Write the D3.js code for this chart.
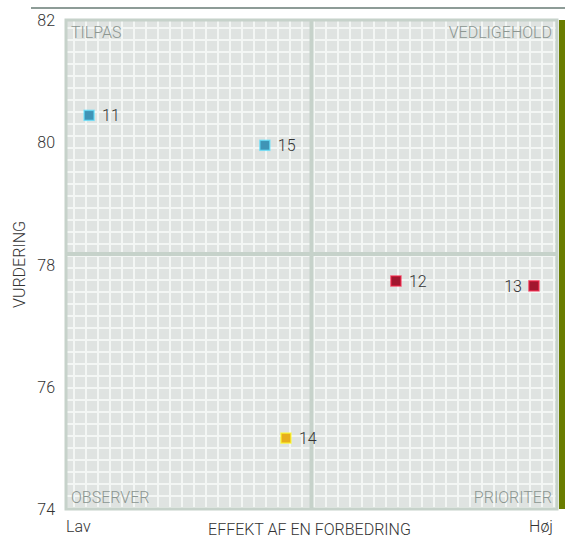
<!DOCTYPE html>
<html>
<head>
<meta charset="utf-8">
<script src="https://cdn.jsdelivr.net/npm/d3@7"></script>
<style>
  body { margin: 0; background: #fff; }
  svg text { font-family: Roboto, "Open Sans", sans-serif; font-weight: 300; }
</style>
</head>
<body>
<svg id="chart" width="565" height="540"></svg>
<script>
// data
const ids = ['11', '15', '12', '13', '14'];
const effekt = [4.7, 40.5, 67.2, 95.3, 44.8];
const vurdering = [80.44, 79.95, 77.73, 77.65, 75.16];
const groups = ['tilpas', 'tilpas', 'prioriter', 'prioriter', 'observer'];
const labelSide = ['right', 'right', 'right', 'left', 'right'];
const yTicks = [74, 76, 78, 80, 82];
const quadrants = ['TILPAS', 'VEDLIGEHOLD', 'OBSERVER', 'PRIORITER'];
const midX = 50;
const midY = 78.17;

const points = ids.map((id, i) => ({
  id, x: effekt[i], y: vurdering[i], group: groups[i], side: labelSide[i],
}));

const color = { tilpas: '#3f94b6', prioriter: '#a1162e', observer: '#e7ae1c' };

const svg = d3.select('#chart');
const m = { left: 66, right: 557, top: 20, bottom: 509 };

const x = d3.scaleLinear().domain([0, 100]).range([m.left, m.right]);
const y = d3.scaleLinear().domain([74, 82]).range([m.bottom, m.top]);

// top rule
svg.append('line')
  .attr('x1', 31).attr('x2', 565)
  .attr('y1', 8).attr('y2', 8)
  .attr('stroke', '#8d9c97').attr('stroke-width', 2);

// plot background
svg.append('rect')
  .attr('x', m.left).attr('y', m.top)
  .attr('width', m.right - m.left).attr('height', m.bottom - m.top)
  .attr('fill', '#dfe3e1');

// white grid mesh
const step = 12;
const grid = svg.append('g').attr('stroke', '#f3f6f4').attr('stroke-width', 2);
grid.selectAll('.v')
  .data(d3.range(m.left + 8, m.right, step))
  .join('line')
  .attr('class', 'v')
  .attr('x1', (d) => d).attr('x2', (d) => d)
  .attr('y1', m.top).attr('y2', m.bottom);
grid.selectAll('.h')
  .data(d3.range(m.top + 8, m.bottom, step))
  .join('line')
  .attr('class', 'h')
  .attr('y1', (d) => d).attr('y2', (d) => d)
  .attr('x1', m.left).attr('x2', m.right);

// crosshair
svg.append('line')
  .attr('x1', x(midX)).attr('x2', x(midX))
  .attr('y1', m.top).attr('y2', m.bottom)
  .attr('stroke', '#c6d2ca').attr('stroke-width', 4);
svg.append('line')
  .attr('x1', m.left).attr('x2', m.right)
  .attr('y1', y(midY)).attr('y2', y(midY))
  .attr('stroke', '#c6d2ca').attr('stroke-width', 4);

// border
svg.append('rect')
  .attr('x', m.left).attr('y', m.top)
  .attr('width', m.right - m.left).attr('height', m.bottom - m.top)
  .attr('fill', 'none')
  .attr('stroke', '#c6d2ca').attr('stroke-width', 3);

// green bar at right
svg.append('rect')
  .attr('x', 559).attr('y', m.top)
  .attr('width', 6).attr('height', m.bottom - m.top)
  .attr('fill', '#6a7d00');

// quadrant labels
const ql = svg.append('g')
  .attr('fill', '#8c9691')
  .style('font-size', '16px');
ql.append('text').text(quadrants[0]).attr('x', m.left + 5).attr('y', m.top + 18);
ql.append('text').text(quadrants[1]).attr('x', m.right - 5).attr('y', m.top + 18).attr('text-anchor', 'end');
ql.append('text').text(quadrants[2]).attr('x', m.left + 5).attr('y', m.bottom - 6);
ql.append('text').text(quadrants[3]).attr('x', m.right - 5).attr('y', m.bottom - 6).attr('text-anchor', 'end');

// y axis ticks
svg.append('g')
  .selectAll('text')
  .data(yTicks)
  .join('text')
  .attr('x', 55)
  .attr('y', (d) => y(d) + 6)
  .attr('text-anchor', 'end')
  .attr('fill', '#333')
  .style('font-size', '16px')
  .text((d) => d);

// axis titles
svg.append('text')
  .attr('transform', `translate(25, ${(m.top + m.bottom) / 2}) rotate(-90)`)
  .attr('text-anchor', 'middle')
  .attr('fill', '#333')
  .style('font-size', '16px')
  .text('VURDERING');
svg.append('text')
  .attr('x', (m.left + m.right) / 2 - 2).attr('y', 535)
  .attr('text-anchor', 'middle')
  .attr('fill', '#333')
  .style('font-size', '16px')
  .text('EFFEKT AF EN FORBEDRING');
svg.append('text')
  .attr('x', m.left).attr('y', 532)
  .attr('fill', '#333')
  .style('font-size', '16px')
  .text('Lav');
svg.append('text')
  .attr('x', 553).attr('y', 532)
  .attr('text-anchor', 'end')
  .attr('fill', '#333')
  .style('font-size', '16px')
  .text('Høj');

// points
const s = 10;
const pts = svg.append('g')
  .selectAll('g')
  .data(points)
  .join('g')
  .attr('transform', (d) => `translate(${x(d.x)}, ${y(d.y)})`);
pts.append('rect')
  .attr('x', -s / 2).attr('y', -s / 2)
  .attr('width', s).attr('height', s)
  .attr('fill', (d) => color[d.group])
  .attr('stroke', (d) => d3.color(color[d.group]).brighter(1.2))
  .attr('stroke-opacity', 0.7)
  .attr('stroke-width', 1.5);
pts.append('text')
  .attr('x', (d) => (d.side === 'right' ? 13 : -12))
  .attr('y', 6)
  .attr('text-anchor', (d) => (d.side === 'right' ? 'start' : 'end'))
  .attr('fill', '#333')
  .style('font-size', '16px')
  .text((d) => d.id);
</script>
</body>
</html>
